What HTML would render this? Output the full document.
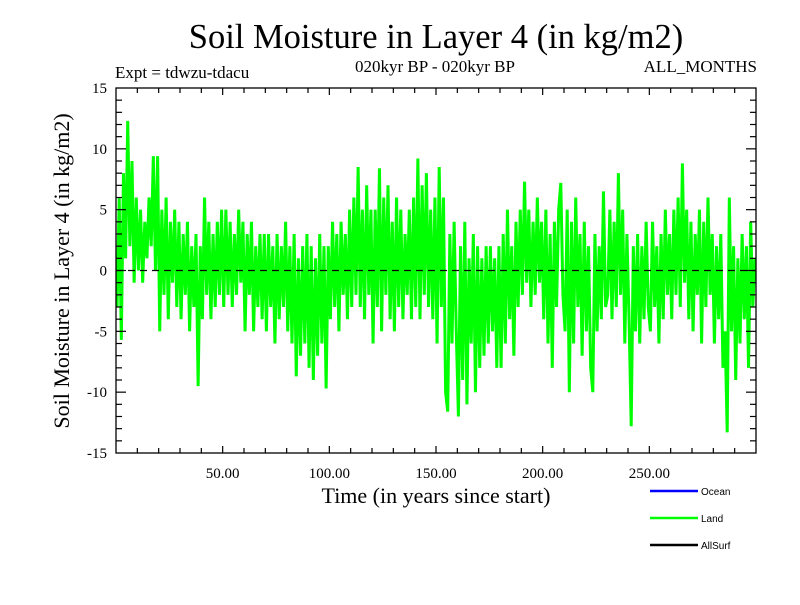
<!DOCTYPE html>
<html><head><meta charset="utf-8"><style>
body{margin:0;background:#fff}
text{font-family:"Liberation Serif",serif}
</style></head><body>
<svg id="c" width="800" height="600" xmlns="http://www.w3.org/2000/svg">
<text x="436" y="48" font-size="34.5" text-anchor="middle">Soil Moisture in Layer 4 (in kg/m2)</text>
<text x="435" y="72" font-size="17" text-anchor="middle">020kyr BP - 020kyr BP</text>
<text x="115" y="78" font-size="17">Expt = tdwzu-tdacu</text>
<text x="757" y="72" font-size="17" text-anchor="end">ALL_MONTHS</text>
<text x="436" y="503" font-size="22" text-anchor="middle">Time (in years since start)</text>
<text transform="translate(69,271) rotate(-90)" font-size="22" text-anchor="middle">Soil Moisture in Layer 4 (in kg/m2)</text>
<g id="plot"></g>
<g id="legend"></g>
</svg>
<script>
const xTicks=[50,100,150,200,250];
const yTicks=[-15,-10,-5,0,5,10,15];
const seriesNames=["Ocean","Land","AllSurf"];
const seriesColors=["#0000ff","#00ff00","#000000"];
const landValues=[
-3,6,-5.7,8,1,12.3,2,9,-1,6,
0,5,-1,4,1,6,2,9.4,0,9.4,
-5,5,-2,6,-4,4,-1,5,-3,4,
-4,3,-2,4,-5,2,-3,3,-9.5,2,
-4,6,-2,4,-4,3,-3,4,-2,5,
-3,5,-2,4,-3,3,-2,5,-1,4,
-5,3,-2,4,-5,2,-3,3,-4,3,
-5,3,-3,2,-6,3,-4,2,-3,4,
-5,2,-6,3,-8.7,1,-7,2,-6,3,
-8,2,-9,1,-7,3,-6,2,-9.7,2,
-4,4,-3,3,-5,4,-2,3,-4,5,
-3,6,-2,8.5,-3,5,-4,7,-2,5,
-6,5,-3,8.4,-5,6,-2,7,-4,4,
-5,6,-3,5,-4,3,-2,5,-4,6,
-3,9.2,-4,7,-2,8,-3,5,-4,6,
-6,8.5,-3,6,-10,-11.6,3,-6,4,-5,
-12,2,-9,4,-11,1,-6,3,-10,2,
-8,1,-7,2,-6,2,-5,1,-8,2,
-8,3,-6,5,-4,2,-7,4,-3,5,
-2,7.3,-1,5,-3,4,-2,6,-1,4,
-4,5,-6,3,-8,4,-3,5,7.2,-2,
-5,5,-10,4,-6,6,-3,3,-7,4,
-5,2,-8,-10,3,-5,2,-4,6.5,-3,
-2,5,-4,4,-3,8,-2,5,-6,3,
-4,-12.8,2,-5,3,-6,2,-4,4,-3,
-5,4,-3,2,-6,3,-4,5,-2,3,
-4,5,-2,6,-3,8.8,-1,5,-4,4,
-5,3,-2,5,-6,4,-3,6,-2,3,
-6,2,-4,3,-8,-5,-13.3,6,-5,2,
-9,1,-6,3,-4,2,-8,4,-3,1];
const X0=116,X1=756,Y0=88,Y1=453;
const xs=v=>X0+(v-0)/300*(X1-X0);
const ys=v=>Y1-(v+15)/30*(Y1-Y0);
const NS="http://www.w3.org/2000/svg";
const plot=document.getElementById('plot');
function mk(tag,attrs,parent){const e=document.createElementNS(NS,tag);for(const k in attrs)e.setAttribute(k,attrs[k]);parent.appendChild(e);return e;}
let d="";
landValues.forEach((v,i)=>{d+=(i?"L":"M")+xs(i+0.5).toFixed(2)+","+ys(v).toFixed(2);});
const line=mk('path',{d:d,fill:'none',stroke:'#00ff00','stroke-width':3,'stroke-linejoin':'bevel'},plot);


const zl=mk('line',{x1:X0,x2:X1,y1:ys(0),y2:ys(0),stroke:'#000','stroke-width':1.3,'stroke-dasharray':'7,5'},plot);


const fr=mk('rect',{x:X0,y:Y0,width:X1-X0,height:Y1-Y0,fill:'none',stroke:'#000','stroke-width':1.3},plot);


for(let t=10;t<300;t+=10){const maj=t%50===0;const L=maj?7:5;
 mk('line',{x1:xs(t),x2:xs(t),y1:Y1,y2:Y1-L,stroke:'#000','stroke-width':1.2},plot);
 mk('line',{x1:xs(t),x2:xs(t),y1:Y0,y2:Y0+L,stroke:'#000','stroke-width':1.2},plot);}
for(let t=-14;t<15;t++){const maj=t%5===0;const L=maj?10:6;
 mk('line',{x1:X0,x2:X0+L,y1:ys(t),y2:ys(t),stroke:'#000','stroke-width':1.2},plot);
 mk('line',{x1:X1,x2:X1-L,y1:ys(t),y2:ys(t),stroke:'#000','stroke-width':1.2},plot);}
xTicks.forEach(t=>{const e=mk('text',{x:xs(t),y:478,'font-size':15,'text-anchor':'middle'},plot);e.textContent=t.toFixed(2);
 
 });
yTicks.forEach(t=>{const e=mk('text',{x:107,y:ys(t)+5,'font-size':15,'text-anchor':'end'},plot);e.textContent=t;
 
 });
const lg=document.getElementById('legend');
seriesNames.forEach((n,i)=>{const y=491+i*27;
 const g=mk('g',{},lg);
 
 
 mk('line',{x1:650,x2:698,y1:y,y2:y,stroke:seriesColors[i],'stroke-width':2.5},g);
 const t=mk('text',{x:701,y:y+4,'font-size':10,style:'font-family:"Liberation Sans",sans-serif'},g);t.textContent=n;});
</script>
</body></html>
